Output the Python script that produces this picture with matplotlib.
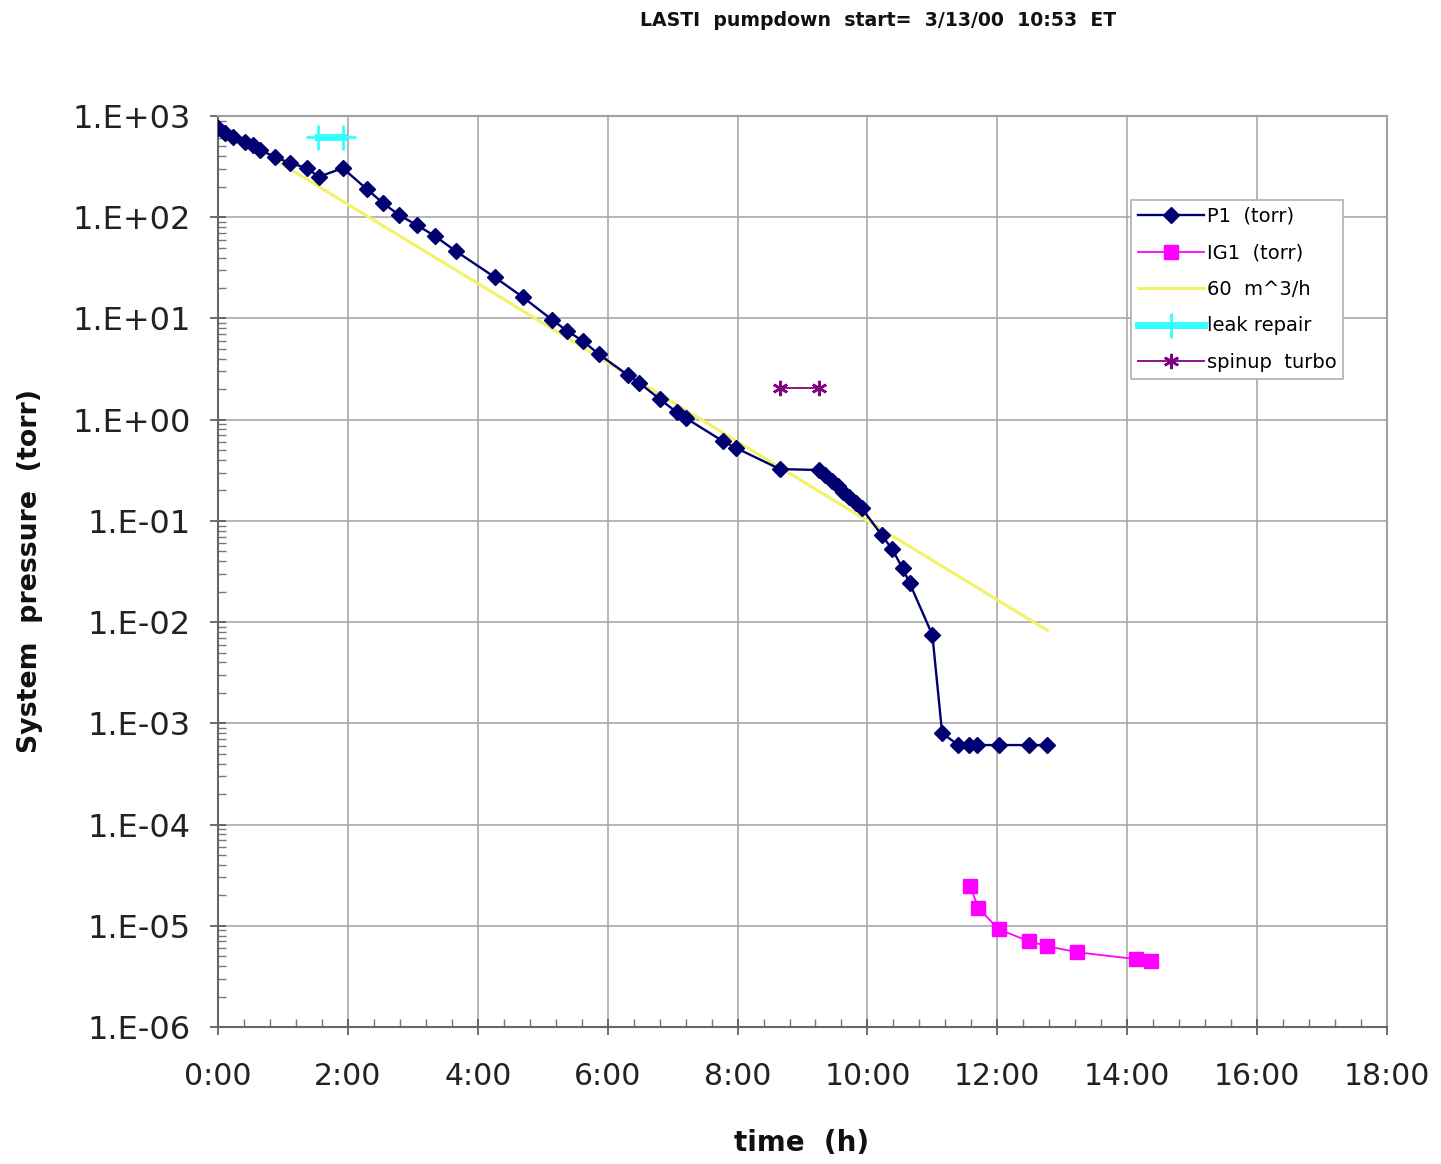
import matplotlib
matplotlib.use("Agg")
import matplotlib.pyplot as plt
from matplotlib.ticker import FixedLocator, FuncFormatter, LogLocator, MultipleLocator, NullFormatter
import numpy as np

plt.rcParams['font.family'] = ['DejaVu Sans']

# ---- data (time in hours since start, pressure in torr) ----
p1_t = [0.0, 0.11, 0.23, 0.42, 0.54, 0.65, 0.88, 1.11, 1.37, 1.55, 1.92, 2.29, 2.54, 2.79,
        3.06, 3.34, 3.66, 4.26, 4.69, 5.15, 5.38, 5.62, 5.86, 6.31, 6.49, 6.80, 7.06, 7.20,
        7.77, 7.98, 8.65, 9.26, 9.35, 9.45, 9.54, 9.63, 9.72, 9.82, 9.91, 10.22, 10.38,
        10.54, 10.65, 11.00, 11.15, 11.40, 11.57, 11.69, 12.02, 12.48, 12.77]
p1_p = [760, 680, 620, 553, 516, 461, 393, 343, 306, 250, 306, 190, 138, 105,
        83.7, 65.2, 46.3, 25.6, 16.3, 9.63, 7.5, 5.98, 4.45, 2.76, 2.30, 1.60, 1.19, 1.04,
        0.615, 0.524, 0.325, 0.318, 0.284, 0.247, 0.221, 0.193, 0.172, 0.150, 0.134, 0.0724, 0.0527,
        0.0342, 0.0243, 0.00745, 0.0008, 0.00061, 0.00061, 0.00061, 0.00061, 0.00061, 0.00061]

ig1_t = [11.58, 11.71, 12.02, 12.48, 12.77, 13.23, 14.14, 14.37]
ig1_p = [2.46e-5, 1.49e-5, 9.25e-6, 7.05e-6, 6.28e-6, 5.48e-6, 4.68e-6, 4.47e-6]

fit_t = [0.88, 12.77]
fit_p = [367, 0.0083]

leak_t = [1.54, 1.92]
leak_p = [620, 620]

spin_t = [8.65, 9.26]
spin_p = [2.05, 2.05]

x_ticks = [0, 2, 4, 6, 8, 10, 12, 14, 16, 18]
y_exps = [3, 2, 1, 0, -1, -2, -3, -4, -5, -6]

title = "LASTI  pumpdown  start=  3/13/00  10:53  ET"

# ---- figure ----
W, H = 1441, 1164
fig = plt.figure(figsize=(W / 100, H / 100), dpi=100)
ax = fig.add_axes([218 / W, 1 - 1027 / H, (1387 - 218) / W, (1027 - 116) / H])

ax.set_yscale('log')
ax.set_xlim(0, 18)
ax.set_ylim(1e-6, 1e3)

ax.plot(fit_t, fit_p, color='#f2f266', lw=2.2, label='60  m^3/h', zorder=3)
ax.plot(p1_t, p1_p, color='#000070', lw=1.7, marker='D', ms=8.5, mfc='#000070', mec='#000070',
        label='P1  (torr)', zorder=5)
ax.plot(ig1_t, ig1_p, color='#ff00ff', lw=1.3, marker='s', ms=10, mfc='#ff00ff', mec='#ff00ff',
        label='IG1  (torr)', zorder=5)
ax.plot(leak_t, leak_p, color='#33ffff', lw=5, marker='+', ms=18, mew=2, mec='#33ffff',
        label='leak repair', zorder=4)
ax.plot(spin_t, spin_p, color='#800080', lw=1.3, marker=(6, 2, 0), ms=11, mew=1.8,
        mec='#800080', label='spinup  turbo', zorder=4)

# order legend as reference
handles, labels = ax.get_legend_handles_labels()
order = ['P1  (torr)', 'IG1  (torr)', '60  m^3/h', 'leak repair', 'spinup  turbo']
hmap = dict(zip(labels, handles))
leg = ax.legend([hmap[k] for k in order], order, loc='upper left',
                bbox_to_anchor=((1131 - 218) / 1169, (1027 - 200) / 911),
                borderaxespad=0, fontsize=14, numpoints=1, handlelength=3.4,
                handletextpad=0.15, labelspacing=0.9, borderpad=0.35,
                frameon=True, fancybox=False, framealpha=1, edgecolor='#b0b0b0')
leg.get_frame().set_linewidth(1.2)

# ticks
ax.xaxis.set_major_locator(FixedLocator(x_ticks))
ax.xaxis.set_minor_locator(MultipleLocator(0.4))
ax.xaxis.set_major_formatter(FuncFormatter(lambda v, p: f"{int(round(v))}:00"))
ax.yaxis.set_major_locator(FixedLocator([10.0 ** e for e in y_exps]))
ax.yaxis.set_minor_locator(LogLocator(base=10, subs=np.arange(2, 10), numticks=30))
ax.yaxis.set_minor_formatter(NullFormatter())
ax.yaxis.set_major_formatter(FuncFormatter(
    lambda v, p: f"1.E{int(round(np.log10(v))):+03d}"))

ax.tick_params(axis='both', which='major', direction='inout', length=11, width=1.2,
               colors='#555555', labelcolor='#222222', labelsize=21.5)
ax.tick_params(axis='x', which='major', pad=20)
ax.tick_params(axis='y', which='major', pad=14, labelsize=23)
ax.tick_params(axis='both', which='minor', direction='in', length=6, width=1.0,
               colors='#777777')

ax.grid(True, which='major', color='#a8a8a8', lw=1.2)
ax.set_axisbelow(True)
for side in ['top', 'right']:
    ax.spines[side].set_color('#a0a0a0')
    ax.spines[side].set_linewidth(1.5)
for side in ['left', 'bottom']:
    ax.spines[side].set_color('#666666')
    ax.spines[side].set_linewidth(1.5)

fig.text(878 / W, 1 - 20 / H, title, ha='center', va='center', fontsize=13.6,
         fontweight='bold', color='#111111')
fig.text(802 / W, 1 - 1143 / H, "time  (h)", ha='center', va='center', fontsize=20,
         fontweight='bold', color='#111111')
fig.text(30 / W, 1 - 571 / H, "System  pressure  (torr)", ha='center', va='center',
         rotation=90, fontsize=19.3, fontweight='bold', color='#111111')

fig.savefig('out.png', dpi=100, facecolor='white')
